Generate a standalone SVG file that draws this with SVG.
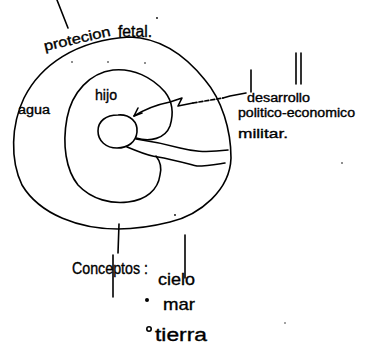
<svg xmlns="http://www.w3.org/2000/svg" width="367" height="353" viewBox="0 0 367 353">
<style>
.s{fill:none;stroke:#000;stroke-width:1.6;stroke-linecap:round;stroke-linejoin:round}
.t{font-family:"Liberation Sans",Arial,sans-serif;fill:#000;stroke:#000;stroke-width:0.35}
.d{fill:#000}
</style>
<rect width="367" height="353" fill="#fff"/>
<g id="outer-circle">
<path class="s" d="M130,37 C160,38 185,55 205,80 C222,100 231,130 231,158 C230,190 200,215 170,222 C150,227 135,229 118,229 C80,229 40,215 22,185 C10,160 11,125 24,98 C40,66 75,40 130,37 Z"/>
<text class="t" font-size="14" x="45" y="51" textLength="68" lengthAdjust="spacingAndGlyphs" transform="rotate(-13 45 51)">protecion</text>
<text class="t" font-size="16" x="118" y="37" textLength="34" lengthAdjust="spacingAndGlyphs">fetal.</text>
<text class="t" font-size="12" x="18" y="114" textLength="32" lengthAdjust="spacingAndGlyphs">agua</text>
</g>
<g id="inner-shape">
<path class="s" d="M136,138 C150,142 165,139 170,126 C174,113 172,101 165,92 C152,77 133,68 113,70 C90,73 72,92 67,118 C62,145 66,170 78,185 C92,200 112,204 128,202 C146,200 158,190 160,175 C162,167 160,161 156,156"/>
<text class="t" font-size="15" x="95" y="100" textLength="22" lengthAdjust="spacingAndGlyphs">hijo</text>
</g>
<g id="core">
<path class="s" d="M118,115 C130,114 138,122 137,132 C136,142 128,148 117,148 C106,148 98,141 98,131 C98,121 106,115 118,115 Z"/>
</g>
<g id="connectors">
<path class="s" d="M136,139 C150,141 165,144 180,148 C192,151 203,153 228,150"/>
<path class="s" d="M127,147 C140,152 148,156 158,157 C170,159 185,163 197,166 C208,166 218,164 225,163"/>
<path class="s" d="M134,116 C142,111 155,105 170,102 L182,98 L178,106 L193,103"/>
<path class="s" d="M193,103 L223,98" stroke-dasharray="4 2"/>
<path class="s" d="M223,98 L230,96 L246,93"/>
<path class="s" d="M138,108 L134,116 L142,113"/>
<path class="s" d="M57,0 L68,28"/>
<path class="s" d="M119,224 L118,253 M113,255 L113,297"/>
</g>
<g id="annotation">
<text class="t" font-size="12" x="247" y="102" textLength="63" lengthAdjust="spacingAndGlyphs">desarrollo</text>
<text class="t" font-size="12" x="238" y="117" textLength="117" lengthAdjust="spacingAndGlyphs">politico-economico</text>
<text class="t" font-size="13" x="238" y="138" textLength="50" lengthAdjust="spacingAndGlyphs">militar.</text>
<path class="s" d="M251,70 L251,92 M296,53 L296,84 M301,53 L301,84"/>
</g>
<g id="concepts">
<text class="t" font-size="16" x="72" y="274" textLength="76" lengthAdjust="spacingAndGlyphs">Conceptos :</text>
<text class="t" font-size="17" x="158" y="285" textLength="37" lengthAdjust="spacingAndGlyphs">cielo</text>
<path class="s" d="M185,235 L185,278"/>
<circle class="d" cx="147" cy="300" r="2"/>
<text class="t" font-size="17" x="163" y="310" textLength="32" lengthAdjust="spacingAndGlyphs">mar</text>
<circle class="s" cx="149" cy="329" r="2.2"/>
<text class="t" font-size="18" x="155" y="341" textLength="52" lengthAdjust="spacingAndGlyphs">tierra</text>
</g>
<g id="specks">
<circle class="d" cx="157" cy="18" r="0.9"/>
<circle class="d" cx="72" cy="62" r="0.8"/>
<circle class="d" cx="108" cy="62" r="0.8"/>
<circle class="d" cx="145" cy="63" r="0.8"/>
<circle class="d" cx="342" cy="163" r="0.8"/>
<circle class="d" cx="175" cy="215" r="0.9"/>
<circle class="d" cx="285" cy="323" r="0.7"/>
</g>
</svg>
